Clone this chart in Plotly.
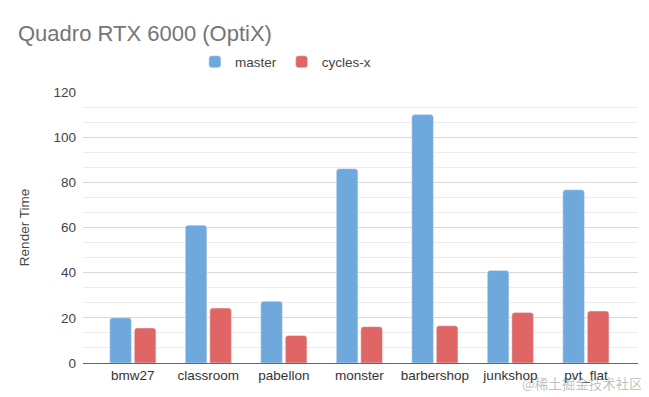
import plotly.graph_objects as go

categories = ["bmw27", "classroom", "pabellon", "monster", "barbershop", "junkshop", "pvt_flat"]
master = [20, 61, 27.3, 86, 110, 41, 76.7]
cycles_x = [15.5, 24.3, 12.2, 16.1, 16.5, 22.4, 23]
y_ticks = [0, 20, 40, 60, 80, 100, 120]

FONT = "Liberation Sans, Arial, sans-serif"
W, H = 641, 389          # page body has an 8px margin
L, R, T, B = 75, 11, 84, 34
PH = H - T - B

fig = go.Figure()
fig.add_trace(go.Bar(x=categories, y=master, name="master", marker_color="#6fa8dc"))
fig.add_trace(go.Bar(x=categories, y=cycles_x, name="cycles-x", marker_color="#e06666"))

fig.update_layout(
    width=W, height=H,
    margin=dict(l=L, r=R, t=T, b=B),
    paper_bgcolor="white", plot_bgcolor="white",
    font=dict(family=FONT, color="#444444", size=13.5),
    title=dict(text="Quadro RTX 6000 (OptiX)", x=10 / W, xref="container", xanchor="left",
               y=1 - 25 / H, yref="container", yanchor="middle",
               font=dict(size=22, color="#757575", family=FONT)),
    bargap=0.35, bargroupgap=0.12, barcornerradius=3,
    legend=dict(orientation="h", x=0.2016, xanchor="left", y=1 + 30 / PH, yanchor="middle",
                font=dict(size=13.5, color="#444444"), itemwidth=30),
    showlegend=True,
)

fig.update_xaxes(range=[-0.66, 6.69], showgrid=False, showline=True, linecolor="#666666", linewidth=1,
                 ticks="", tickfont=dict(size=13.5, color="#333333"))
fig.update_yaxes(range=[0, 120], tickvals=y_ticks, showgrid=True, gridcolor="#d9d9d9",
                 zeroline=False, showline=False, ticks="", ticklabelstandoff=6,
                 tickfont=dict(size=13.5, color="#444444"),
                 minor=dict(dtick=20 / 3, tick0=0, showgrid=True, gridcolor="#ececec"),
                 title=dict(text="Render Time", font=dict(size=13.5, color="#444444"), standoff=20))

fig.add_annotation(text="@稀土掘金技术社区", xref="paper", yref="paper",
                   x=(637 - L) / (W - L - R), y=-20 / PH, xanchor="right", yanchor="middle",
                   showarrow=False,
                   font=dict(family="Noto Sans CJK SC", size=13.5, color="rgba(140,140,140,0.55)"))

fig.write_html("out.html")
